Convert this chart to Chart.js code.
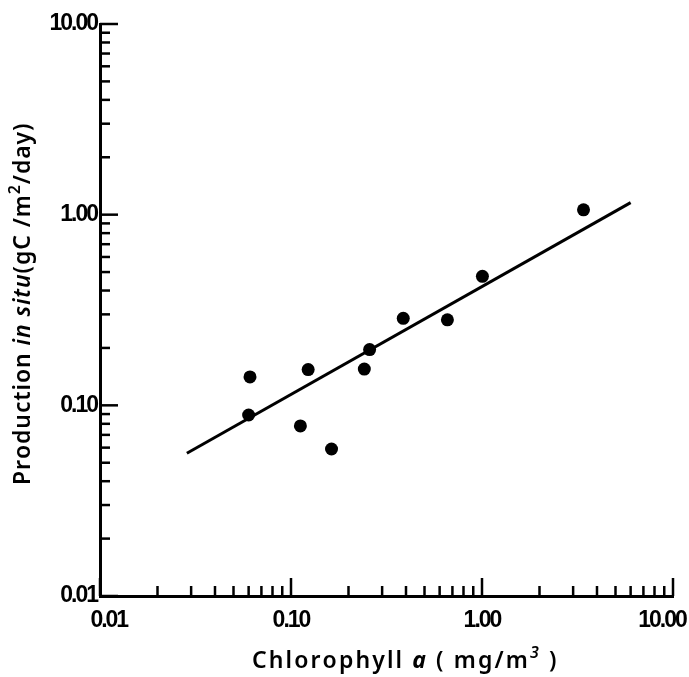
<!DOCTYPE html>
<html><head><meta charset="utf-8">
<script src="https://cdn.jsdelivr.net/npm/chart.js@4.4.1/dist/chart.umd.min.js"></script>
<style>html,body{margin:0;padding:0;background:#fff}#wrap{width:689px;height:677px}</style>
</head><body><div id="wrap"><canvas id="c" width="689" height="677"></canvas></div>
<script>
// ---- data ----
const chlorophyll = [0.061, 0.060, 0.123, 0.112, 0.163, 0.242, 0.258, 0.387, 0.659, 1.005, 3.40];
const production  = [0.141, 0.089, 0.154, 0.078, 0.059, 0.155, 0.196, 0.286, 0.281, 0.475, 1.06];
const fitX = [0.0285, 6.0];
const fitY = [0.0561, 1.156];
const tickValues = [0.01, 0.1, 1, 10];
const tickLabels = ['0.01', '0.10', '1.00', '10.00'];
const minorMultipliers = [2, 3, 4, 5, 6, 7, 8, 9];
const xTitleParts = [
  {t: 'Chlorophyll '}, {t: 'a', it: true, bold: true}, {t: ' ( mg/m'}, {t: '3', sup: true, it: true}, {t: ' )'}
];
const yTitleParts = [
  {t: 'Production '}, {t: 'in situ', it: true}, {t: '(gC /m'}, {t: '2', sup: true}, {t: '/day)'}
];

const TITLE_FAMILY = "'Noto Sans', 'DejaVu Sans', sans-serif";
const TICK_FAMILY = "'Liberation Sans', Arial, sans-serif";
// label text padding (spaces) so the outer x labels sit where the reference prints them
const xLabelPad = {0.01: ['    ', ''], 10: ['', '     ']};

function partFont(p, size) {
  const s = p.sup ? Math.round(size * 0.7) : size;
  return (p.it ? 'italic ' : '') + (p.bold ? '700 ' : '600 ') + s + 'px ' + TITLE_FAMILY;
}
function drawRich(ctx, parts, cx, cy, angle, size, target) {
  ctx.save();
  ctx.letterSpacing = '0px';
  ctx.translate(cx, cy);
  ctx.rotate(angle);
  ctx.fillStyle = '#000';
  ctx.textBaseline = 'alphabetic';
  ctx.textAlign = 'left';
  let natural = 0, chars = 0;
  parts.forEach(p => { ctx.font = partFont(p, size); natural += ctx.measureText(p.t).width; chars += p.t.length; });
  const ls = (target - natural) / chars;
  let x = -target / 2;
  parts.forEach(p => {
    ctx.font = partFont(p, size);
    const y = p.sup ? -size * 0.42 : 0;
    for (const ch of p.t) {
      ctx.fillText(ch, x, y);
      x += ctx.measureText(ch).width + ls;
    }
  });
  ctx.restore();
}

const axisDecor = {
  id: 'axisDecor',
  beforeDraw(chart) { chart.ctx.letterSpacing = '-2px'; },
  afterDraw(chart) {
    const ctx = chart.ctx;
    ctx.letterSpacing = '0px';
    const xs = chart.scales.x, ys = chart.scales.y;
    const left = chart.chartArea.left, bottom = chart.chartArea.bottom;
    ctx.save();
    ctx.strokeStyle = '#000';
    ctx.lineWidth = 2.5;
    ctx.lineCap = 'butt';
    tickValues.forEach((d, i) => {
      const marks = [[d, 18]];
      if (i < tickValues.length - 1) minorMultipliers.forEach(m => marks.push([d * m, 10]));
      marks.forEach(([v, len]) => {
        const py = ys.getPixelForValue(v);
        ctx.beginPath(); ctx.moveTo(left, py); ctx.lineTo(left + len, py); ctx.stroke();
        const px = xs.getPixelForValue(v);
        ctx.beginPath(); ctx.moveTo(px, bottom); ctx.lineTo(px, bottom - len); ctx.stroke();
      });
    });
    ctx.restore();
    drawRich(ctx, xTitleParts, 405, 668, 0, 23, 306);
    drawRich(ctx, yTitleParts, 30, 304, -Math.PI / 2, 23, 362);
  }
};

function labelFor(v) { const i = tickValues.indexOf(v); return i >= 0 ? tickLabels[i] : ''; }

const tickFont = {family: TICK_FAMILY, size: 23, weight: 'bold'};

new Chart(document.getElementById('c'), {
  type: 'scatter',
  data: {
    datasets: [
      {
        label: 'Observations',
        data: chlorophyll.map((x, i) => ({x, y: production[i]})),
        backgroundColor: '#000', borderColor: '#000',
        pointRadius: 6.5, pointHoverRadius: 6.5, borderWidth: 0
      },
      {
        label: 'Fit',
        type: 'line',
        data: fitX.map((x, i) => ({x, y: fitY[i]})),
        borderColor: '#000', borderWidth: 3, pointRadius: 0, fill: false, tension: 0
      }
    ]
  },
  options: {
    responsive: false,
    animation: false,
    devicePixelRatio: 1,
    layout: {padding: {top: 24, right: 16, left: 0, bottom: 0}},
    plugins: {legend: {display: false}, tooltip: {enabled: false}, title: {display: false}},
    scales: {
      x: {
        type: 'logarithmic', min: 0.01, max: 10,
        afterBuildTicks: (s) => { s.ticks = tickValues.map(v => ({value: v})); },
        afterFit: (s) => { s.height = 81; s.paddingLeft = 0; s.paddingRight = 0; },
        grid: {display: false, drawTicks: false},
        border: {display: true, color: '#000', width: 3},
        ticks: {
          color: '#000', font: tickFont, padding: 11, maxRotation: 0, autoSkip: false,
          callback: (v) => { const p = xLabelPad[v] || ['', '']; return p[0] + labelFor(v) + p[1]; }
        }
      },
      y: {
        type: 'logarithmic', min: 0.01, max: 10,
        afterBuildTicks: (s) => { s.ticks = tickValues.map(v => ({value: v})); },
        afterFit: (s) => { s.width = 100; s.paddingTop = 0; s.paddingBottom = 0; },
        grid: {display: false, drawTicks: false},
        border: {display: true, color: '#000', width: 3},
        ticks: {color: '#000', font: tickFont, padding: 3, autoSkip: false, callback: (v) => labelFor(v)}
      }
    }
  },
  plugins: [axisDecor]
});
</script>
</body></html>
